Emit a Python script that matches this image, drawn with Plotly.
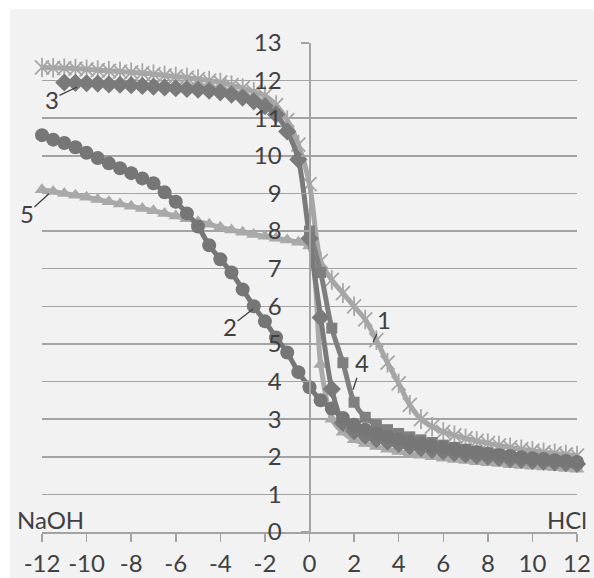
import plotly.graph_objects as go

# ---- data ----
x_full = [i * 0.5 for i in range(-24, 25)]          # -12 .. 12
x_s3 = [i * 0.5 for i in range(-22, 25)]            # -11 .. 12
x_s4 = [i * 0.5 for i in range(0, 25)]              # 0 .. 12

ph_1 = [12.35, 12.34, 12.33, 12.32, 12.30, 12.28, 12.26, 12.24, 12.22, 12.20,
        12.17, 12.14, 12.11, 12.08, 12.04, 12.00, 11.95, 11.88, 11.80, 11.70,
        11.60, 11.35, 10.95, 10.30, 9.25, 7.20, 6.70, 6.35, 6.00, 5.65,
        5.10, 4.50, 3.95, 3.38, 3.00, 2.80, 2.66, 2.57, 2.49, 2.42,
        2.36, 2.30, 2.25, 2.20, 2.16, 2.12, 2.09, 2.06, 2.03]

ph_2 = [10.55, 10.43, 10.34, 10.23, 10.08, 9.94, 9.80, 9.67, 9.54, 9.40,
        9.27, 9.03, 8.78, 8.47, 8.12, 7.62, 7.25, 6.90, 6.45, 6.00,
        5.60, 5.17, 4.77, 4.25, 3.85, 3.50, 3.28, 3.03, 2.85, 2.72,
        2.62, 2.53, 2.46, 2.40, 2.34, 2.29, 2.24, 2.20, 2.16, 2.12,
        2.08, 2.05, 2.02, 1.99, 1.96, 1.94, 1.91, 1.89, 1.86]

ph_3 = [11.95, 11.94, 11.93, 11.92, 11.90, 11.89, 11.88, 11.86, 11.84, 11.82,
        11.80, 11.78, 11.76, 11.73, 11.69, 11.63, 11.55, 11.45, 11.32, 11.10,
        10.65, 9.90, 7.80, 5.70, 3.80, 2.90, 2.68, 2.56, 2.47, 2.40,
        2.34, 2.28, 2.23, 2.18, 2.14, 2.10, 2.06, 2.03, 2.00, 1.97,
        1.94, 1.92, 1.89, 1.87, 1.85, 1.83, 1.81]

ph_4 = [8.00, 6.90, 5.42, 4.50, 3.45, 3.05, 2.85, 2.72, 2.62, 2.53,
        2.45, 2.38, 2.31, 2.25, 2.20, 2.15, 2.10, 2.06, 2.02, 1.98,
        1.95, 1.92, 1.89, 1.86, 1.83]

ph_5 = [9.10, 9.05, 9.00, 8.95, 8.90, 8.84, 8.78, 8.72, 8.66, 8.60,
        8.54, 8.47, 8.40, 8.33, 8.25, 8.18, 8.10, 8.03, 7.97, 7.91,
        7.86, 7.81, 7.76, 7.70, 7.60, 4.45, 3.00, 2.65, 2.45, 2.35,
        2.27, 2.20, 2.14, 2.09, 2.04, 2.00, 1.96, 1.93, 1.90, 1.87,
        1.84, 1.82, 1.79, 1.77, 1.75, 1.73, 1.71, 1.69, 1.67]

x_ticks = list(range(-12, 13, 2))
y_ticks = list(range(0, 14))

FONT = "Lato"
FS = 24
TXT = "#404040"
GRID = "#a3a3a3"

fig = go.Figure()

def curve(x, y, color, symbol, size, width=5, mode="lines+markers", mline=0):
    fig.add_trace(go.Scatter(
        x=x, y=y, mode=mode,
        line=dict(color=color, width=width, shape="spline", smoothing=0.8),
        marker=dict(symbol=symbol, size=size, color=color,
                    line=dict(color=color, width=mline)),
        hoverinfo="skip", showlegend=False, cliponaxis=False))

# draw order: 5, 1, 4, 3, 2
curve(x_full, ph_5, "#a9a9a9", "triangle-up", 13)
curve(x_full, ph_1, "#a6a6a6", "x-thin-open", 14, mline=1.8)
curve(x_full, ph_1, "#a6a6a6", "line-ns-open", 14, mode="markers", mline=1.8)
curve(x_s4, ph_4, "#7f7f7f", "square", 11)
curve(x_s3, ph_3, "#7a7a7a", "diamond", 14)
curve(x_full, ph_2, "#767676", "circle", 14)

fig.update_layout(
    width=594, height=578,
    margin=dict(l=42, r=17, t=43, b=46, autoexpand=False),
    paper_bgcolor="white", plot_bgcolor="#f2f2f2",
    font=dict(family=FONT, size=FS, color=TXT),
    xaxis=dict(range=[-12, 12], tickvals=x_ticks, ticktext=[str(v) for v in x_ticks],
               showgrid=False, zeroline=False, showline=True, linecolor=GRID, linewidth=2,
               ticks="outside", ticklen=8, tickwidth=1.5, tickcolor=GRID, automargin=False,
               ticklabelstandoff=1,
               tickfont=dict(family=FONT, size=FS, color=TXT), fixedrange=True),
    yaxis=dict(range=[0, 13], tickvals=y_ticks, showgrid=True, gridcolor=GRID, gridwidth=1.5,
               zeroline=False, showline=True, linecolor=GRID, linewidth=2,
               anchor="free", position=0.5, side="left", automargin=False,
               ticks="outside", ticklen=8, tickwidth=1.5, tickcolor=GRID,
               ticklabelstandoff=14,
               tickfont=dict(family=FONT, size=FS, color=TXT), fixedrange=True),
    shapes=[dict(type="rect", xref="paper", yref="paper", x0=-0.06, x1=1.05,
                 y0=-0.12, y1=1.0695, fillcolor="#f2f2f2", line=dict(width=0), layer="below")],
)

# axis titles / labels
for txt, x, y in [("pH", 0.87, 13.32), ("NaOH", -11.64, 0.32), ("HCl", 11.55, 0.32)]:
    fig.add_annotation(x=x, y=y, text=txt, showarrow=False,
                       font=dict(family=FONT, size=FS, color=TXT))

# series labels with leader lines
for txt, x, y, ax, ay in [("3", -10.43, 11.83, -25, 12), ("5", -11.69, 8.99, -22, 20),
                          ("2", -2.53, 5.93, -23, 18), ("1", 2.85, 5.05, 11, -23),
                          ("4", 1.95, 3.78, 9, -27)]:
    fig.add_annotation(x=x, y=y, text=txt, showarrow=True, arrowhead=0, arrowwidth=1.3,
                       arrowcolor=TXT, ax=ax, ay=ay, borderpad=0,
                       font=dict(family=FONT, size=FS, color=TXT))

fig.write_html("out.html", config={"displayModeBar": False, "staticPlot": True},
               post_script="document.body.style.margin='0';document.body.style.padding='0';document.body.style.overflow='hidden';")
